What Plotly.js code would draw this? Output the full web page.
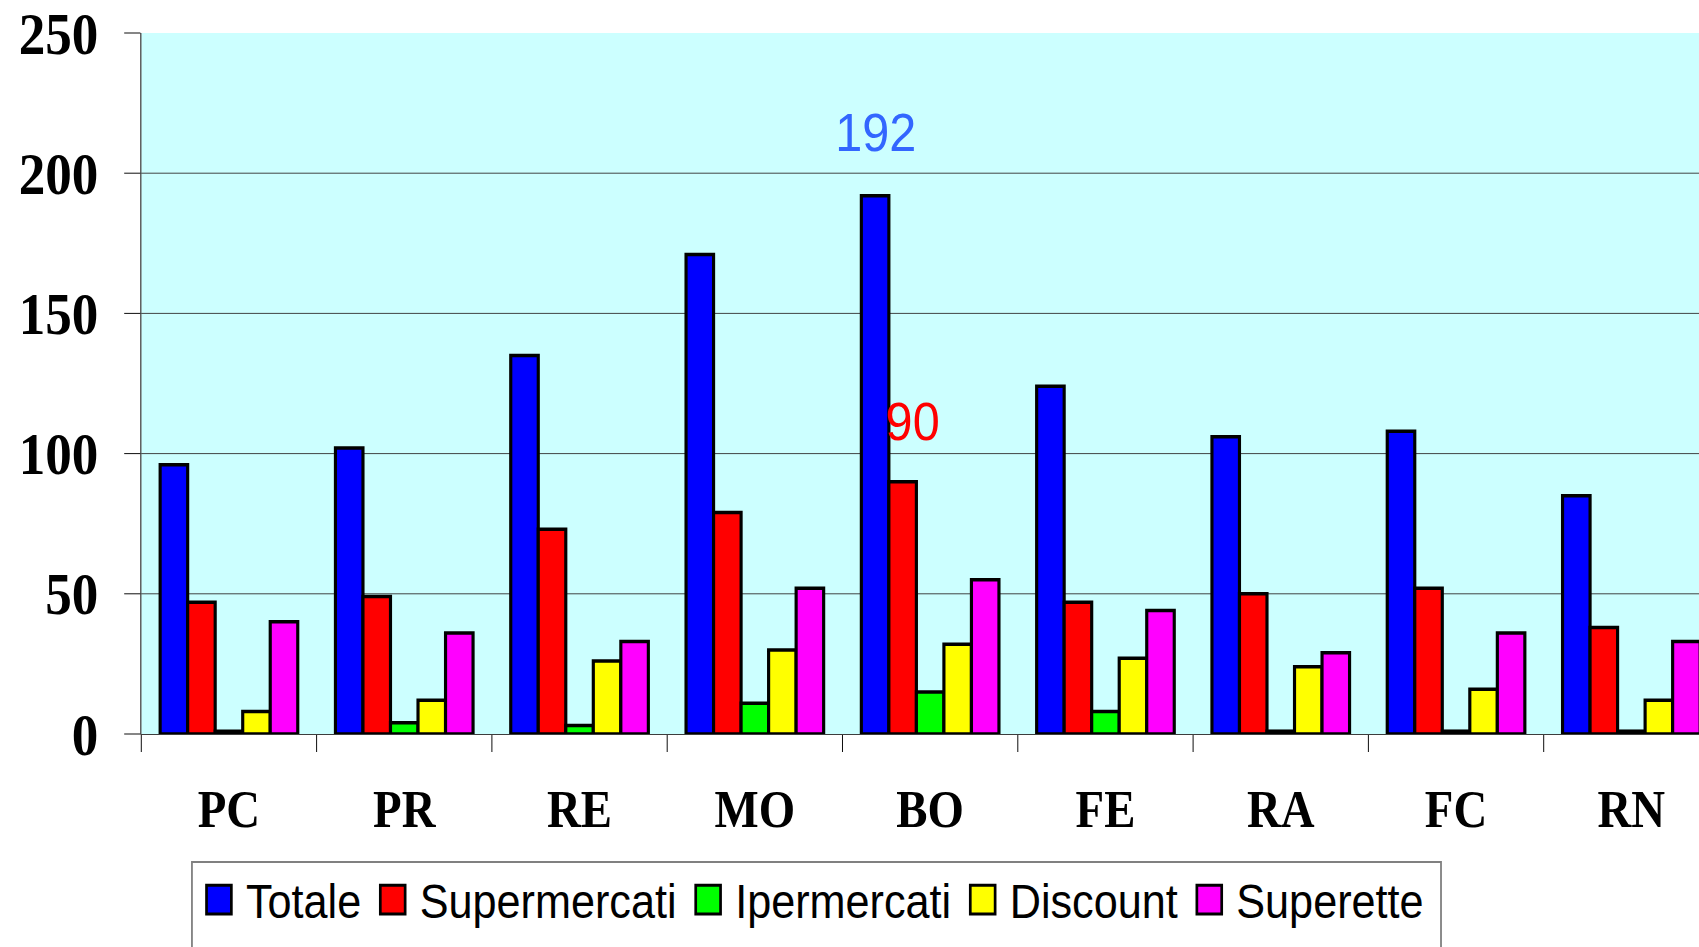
<!DOCTYPE html>
<html><head><meta charset="utf-8">
<script src="https://cdn.plot.ly/plotly-3.0.1.min.js"></script>
<style>
html,body{margin:0;padding:0;overflow:hidden;background:#fff;width:1699px;height:947px}
#wrap{position:absolute;left:0;top:0;width:1960px;height:947px;transform:scaleX(0.9);transform-origin:0 0}
#chart{width:1960px;height:947px}
</style></head><body><div id="wrap"><div id="chart"></div></div>
<script>
const provinces = ['PC','PR','RE','MO','BO','FE','RA','FC','RN'];
const seriesNames = ['Totale','Supermercati','Ipermercati','Discount','Superette'];
const totale       = [96,102,135,171,192,124,106,108,85];
const supermercati = [47,49,73,79,90,47,50,52,38];
const ipermercati  = [1,4,3,11,15,8,1,1,1];
const discount     = [8,12,26,30,32,27,24,16,12];
const superette    = [40,36,33,52,55,44,29,36,33];
const seriesColors = ['#0000FF','#FF0000','#00FF00','#FFFF00','#FF00FF'];
const yTicks = [0,50,100,150,200,250];

const seriesValues = [totale, supermercati, ipermercati, discount, superette];
const traces = seriesValues.map((vals,i)=>({
  type:'bar', name:seriesNames[i], x:provinces, y:vals,
  marker:{color:seriesColors[i], line:{color:'#000', width:3.5}}
}));

const iMax = totale.indexOf(Math.max(...totale));
const serif = 'Liberation Serif, Times New Roman, serif';
const sans = 'Liberation Sans, Arial, sans-serif';

const layout = {
  width:1960, height:947,
  margin:{l:157, r:50, t:33, b:213, pad:0, autoexpand:false},
  paper_bgcolor:'#ffffff', plot_bgcolor:'#CCFFFF',
  bargap:0.215, bargroupgap:0,
  showlegend:true,
  xaxis:{type:'category', tickson:'boundaries', ticks:'outside', ticklen:17, tickcolor:'#000', tickwidth:1,
    showline:true, linecolor:'#333', linewidth:1, showgrid:false, zeroline:false,
    ticklabelstandoff:30,
    tickfont:{family:serif, size:52, color:'#000', weight:'bold'}},
  yaxis:{range:[0,250], tickvals:yTicks, ticktext:yTicks.map(String), ticks:'outside', ticklen:18, tickcolor:'#000',
    showline:true, linecolor:'#000', linewidth:1, showgrid:true, gridcolor:'#3a3a3a', gridwidth:1, zeroline:false,
    ticklabelstandoff:17,
    tickfont:{family:serif, size:59, color:'#000', weight:'bold'}},
  legend:{orientation:'h', x:0.0321, xanchor:'left', y:-0.1826, yanchor:'top', bgcolor:'rgba(0,0,0,0)',
    borderwidth:0, itemwidth:50, traceorder:'normal',
    font:{family:sans, size:48, color:'#000'}},
  shapes:[
    {type:'rect', xref:'paper', yref:'paper', x0:0.0321, x1:0.8238, y0:-0.3367, y1:-0.1826,
     line:{color:'#808080', width:2}, fillcolor:'#ffffff', layer:'above'}
  ],
  annotations:[
    {x:provinces[iMax], y:totale[iMax], xref:'x', yref:'y', text:String(totale[iMax]), showarrow:false,
     xshift:-61, yshift:64, font:{family:sans, size:54, color:'#3366FF'}},
    {x:provinces[iMax], y:supermercati[iMax], xref:'x', yref:'y', text:String(supermercati[iMax]), showarrow:false,
     xshift:-20, yshift:61, font:{family:sans, size:54, color:'#FF0000'}}
  ]
};

Plotly.newPlot('chart', traces, layout, {staticPlot:true, displayModeBar:false}).then(()=>{
  document.querySelectorAll('.legend .legendpoints path').forEach(p=>{
    const t = p.getAttribute('transform') || '';
    p.setAttribute('transform', t + ' scale(2.3,2.4)');
    p.setAttribute('vector-effect','non-scaling-stroke');
    p.style.strokeWidth='3px';
    p.style.stroke='#000';
  });
});
</script></body></html>
